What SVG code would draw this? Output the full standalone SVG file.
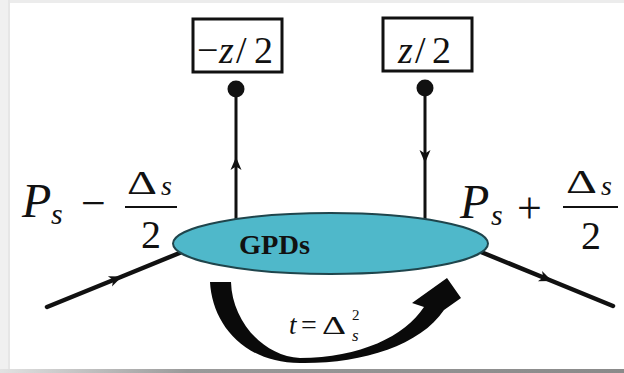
<svg xmlns="http://www.w3.org/2000/svg" width="624" height="373" viewBox="0 0 624 373">
  <defs>
    <linearGradient id="botbar" x1="0" y1="0" x2="1" y2="0">
      <stop offset="0" stop-color="#e2e2e2"/>
      <stop offset="0.3" stop-color="#9a9a9a"/>
      <stop offset="1" stop-color="#8a8a8a"/>
    </linearGradient>
    <marker id="arr" viewBox="-14 -6 16 12" refX="0" refY="0" markerWidth="16" markerHeight="12" markerUnits="userSpaceOnUse" orient="auto">
      <path d="M0,0 L-13,-5.5 L-9.5,0 L-13,5.5 Z" fill="#111"/>
    </marker>
    <style>
      .math { font-family: "Liberation Serif", "Times New Roman", serif; fill: #111; }
      .it { font-style: italic; }
      .conn { fill: none; stroke: #111; stroke-linecap: round; }
      .box { fill: #fff; stroke: #111; stroke-width: 3; }
      .bar { stroke: #111; stroke-width: 2; }
    </style>
  </defs>

  <!-- frame -->
  <rect x="0" y="0" width="624" height="373" fill="#ffffff"/>
  <rect x="0" y="0" width="624" height="3" fill="#ececec"/>
  <rect x="0" y="0" width="10" height="373" fill="#f0f0f0"/>
  <rect x="8" y="0" width="2" height="373" fill="#e6e6e6"/>
  <rect x="0" y="369" width="624" height="4" fill="url(#botbar)"/>

  <!-- connectors -->
  <g id="connectors">
    <path class="conn" stroke-width="3" d="M236 219 L236 157 L236 92" marker-mid="url(#arr)"/>
    <path class="conn" stroke-width="3" d="M425 90 L425 163 L425 219" marker-mid="url(#arr)"/>
    <path class="conn" stroke-width="4.5" d="M47 307 L122 276.5 L182 252" marker-mid="url(#arr)"/>
    <path class="conn" stroke-width="4.5" d="M481 252 L552 281 L613 306" marker-mid="url(#arr)"/>
    <path id="t-arrow" fill="#0a0a0a" d="M210 282 C212 322 242 363 300 363 C360 364 420 346 444 310 L461 298 L447 278 L412 303 L424 307 C405 336 360 358 300 358 C262 356 232 320 231 282 Z"/>
  </g>

  <!-- GPDs blob -->
  <g id="gpds">
    <ellipse cx="330.5" cy="243.5" rx="157.5" ry="30.5" fill="#4fb8ca" stroke="#1f454c" stroke-width="2"/>
    <text class="math" x="239" y="254" font-size="27" font-weight="bold" textLength="71" lengthAdjust="spacingAndGlyphs">GPDs</text>
  </g>

  <!-- left point -->
  <g id="point-left">
    <rect class="box" x="193" y="19" width="89" height="53"/>
    <text class="math" font-size="38" y="63"><tspan x="197">−</tspan><tspan class="it" x="219">z</tspan><tspan x="236">/</tspan><tspan x="254">2</tspan></text>
    <circle cx="236" cy="89" r="8.5" fill="#111"/>
  </g>

  <!-- right point -->
  <g id="point-right">
    <rect class="box" x="383" y="18" width="89" height="53"/>
    <text class="math" font-size="38" y="63"><tspan class="it" x="398">z</tspan><tspan x="415">/</tspan><tspan x="432">2</tspan></text>
    <circle cx="425" cy="88" r="8.5" fill="#111"/>
  </g>

  <!-- incoming momentum label -->
  <g id="label-in">
    <text class="math it" x="22" y="217" font-size="48">P</text>
    <text class="math it" x="51" y="224" font-size="30">s</text>
    <text class="math" x="81" y="218" font-size="44">−</text>
    <text class="math" x="127" y="194" font-size="34" textLength="30" lengthAdjust="spacingAndGlyphs">Δ</text>
    <text class="math it" x="161" y="195" font-size="28">s</text>
    <line class="bar" x1="125" y1="207" x2="177" y2="207"/>
    <text class="math" x="141" y="248" font-size="40">2</text>
  </g>

  <!-- outgoing momentum label -->
  <g id="label-out">
    <text class="math it" x="460" y="218" font-size="48">P</text>
    <text class="math it" x="491" y="225" font-size="30">s</text>
    <text class="math" x="517" y="223" font-size="44">+</text>
    <text class="math" x="566" y="193" font-size="34" textLength="31" lengthAdjust="spacingAndGlyphs">Δ</text>
    <text class="math it" x="601" y="195" font-size="28">s</text>
    <line class="bar" x1="563" y1="207" x2="618" y2="207"/>
    <text class="math" x="581" y="249" font-size="40">2</text>
  </g>

  <!-- momentum transfer label -->
  <g id="label-t">
    <text class="math it" x="289" y="334" font-size="27">t</text>
    <text class="math" x="301" y="334" font-size="28">=</text>
    <text class="math" x="322" y="334" font-size="25" textLength="24" lengthAdjust="spacingAndGlyphs">Δ</text>
    <text class="math" x="352" y="320" font-size="15">2</text>
    <text class="math it" x="352" y="341" font-size="17">s</text>
  </g>
</svg>
